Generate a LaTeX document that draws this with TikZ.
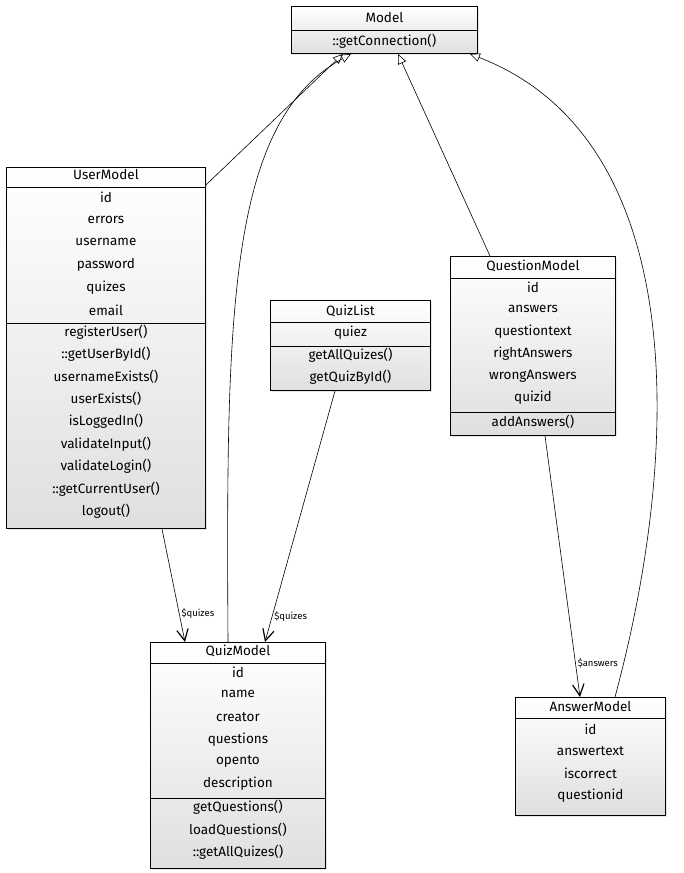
\documentclass[tikz,border=0pt]{standalone}
\usepackage{fontspec}
\setmainfont{Fira Sans}
\usetikzlibrary{arrows.meta, positioning, calc, shadows}

\begin{document}
\begin{tikzpicture}[x=1pt, y=-1pt,
    cls/.style={draw, line width=0.9pt, top color=white, bottom color=gray!25, anchor=north west,
                inner sep=0pt, drop shadow={opacity=0.2, shadow xshift=2pt, shadow yshift=-2pt}},
    row/.style={font=\fontsize{13.5}{15}\selectfont, inner sep=0pt},
    sep/.style={line width=0.7pt},
    inh/.style={-{Triangle[open, length=3.5mm, width=3mm]}, line width=0.6pt},
    use/.style={-{Straight Barb[length=4mm, width=4mm, line width=1.2pt]}, line width=0.6pt},
    lbl/.style={font=\fontsize{9.5}{10}\selectfont, inner sep=1pt}]
  \useasboundingbox (0,0) rectangle (683,873);

  % class boxes
  \node[cls, minimum width=186, minimum height=47] (model) at (291,6) {};
  \node[cls, minimum width=199, minimum height=361] (user) at (6,167) {};
  \node[cls, minimum width=160, minimum height=90] (list) at (270,300) {};
  \node[cls, minimum width=165, minimum height=179] (question) at (450,256) {};
  \node[cls, minimum width=175, minimum height=226] (quiz) at (150,642) {};
  \node[cls, minimum width=150, minimum height=118] (answer) at (515,697) {};

  % Model
  \node[row] (model-h) at ($(model.north)+(0,12)$) {Model};
  \draw[sep] ($(model.north west)+(0,24)$) -- ($(model.north east)+(0,24)$);
  \node[row] (model-m) at ($(model.north)+(0,35)$) {::getConnection()};

  % UserModel
  \node[row] (user-h) at ($(user.north)+(0,8)$) {UserModel};
  \draw[sep] ($(user.north west)+(0,20)$) -- ($(user.north east)+(0,20)$);
  \foreach \t [count=\i from 0] in {id,errors,username,password,quizes,email}
    \node[row] (user-a\i) at ($(user.north)+(0,30+22.6*\i)$) {\t};
  \draw[sep] ($(user.north west)+(0,156)$) -- ($(user.north east)+(0,156)$);
  \foreach \t [count=\i from 0] in {registerUser(),::getUserById(),usernameExists(),userExists(),
      isLoggedIn(),validateInput(),validateLogin(),::getCurrentUser(),logout()}
    \node[row] (user-m\i) at ($(user.north)+(0,165+22.4*\i)$) {\t};

  % QuizList
  \node[row] (list-h) at ($(list.north)+(0,11)$) {QuizList};
  \draw[sep] ($(list.north west)+(0,22)$) -- ($(list.north east)+(0,22)$);
  \node[row] (list-a0) at ($(list.north)+(0,33)$) {quiez};
  \draw[sep] ($(list.north west)+(0,46)$) -- ($(list.north east)+(0,46)$);
  \node[row] (list-m0) at ($(list.north)+(0,55)$) {getAllQuizes()};
  \node[row] (list-m1) at ($(list.north)+(0,77)$) {getQuizById()};

  % QuestionModel
  \node[row] (question-h) at ($(question.north)+(0,10)$) {QuestionModel};
  \draw[sep] ($(question.north west)+(0,22)$) -- ($(question.north east)+(0,22)$);
  \foreach \t [count=\i from 0] in {id,answers,questiontext,rightAnswers,wrongAnswers,quizid}
    \node[row] (question-a\i) at ($(question.north)+(0,31+22.2*\i)$) {\t};
  \draw[sep] ($(question.north west)+(0,156)$) -- ($(question.north east)+(0,156)$);
  \node[row] (question-m0) at ($(question.north)+(0,166)$) {addAnswers()};

  % QuizModel
  \node[row] (quiz-h) at ($(quiz.north)+(0,9)$) {QuizModel};
  \draw[sep] ($(quiz.north west)+(0,21)$) -- ($(quiz.north east)+(0,21)$);
  \foreach \t [count=\i from 0] in {id,name,creator,questions,opento,description}
    \node[row] (quiz-a\i) at ($(quiz.north)+(0,30+22.4*\i)$) {\t};
  \draw[sep] ($(quiz.north west)+(0,156)$) -- ($(quiz.north east)+(0,156)$);
  \foreach \t [count=\i from 0] in {getQuestions(),loadQuestions(),::getAllQuizes()}
    \node[row] (quiz-m\i) at ($(quiz.north)+(0,165+22.5*\i)$) {\t};

  % AnswerModel
  \node[row] (answer-h) at ($(answer.north)+(0,10)$) {AnswerModel};
  \draw[sep] ($(answer.north west)+(0,21)$) -- ($(answer.north east)+(0,21)$);
  \foreach \t [count=\i from 0] in {id,answertext,iscorrect,questionid}
    \node[row] (answer-a\i) at ($(answer.north)+(0,32+22.3*\i)$) {\t};

  % inheritance
  \draw[inh] ([yshift=-18pt]user.north east) -- ([xshift=52pt]model.south west);
  \draw[inh] ([xshift=78pt]quiz.north west)
    .. controls ($(quiz.north west)+(76,-330)$) and ($(quiz.north west)+(78,-520)$)
    .. ([xshift=60pt]model.south west);
  \draw[inh] ([xshift=40pt]question.north west) -- ([xshift=107pt]model.south west);
  \draw[inh] ([xshift=100pt]answer.north west)
    .. controls ($(answer.north west)+(170,-260)$) and ($(answer.north west)+(170,-560)$)
    .. ([xshift=-8pt]model.south east);

  % associations
  \draw[use] ([xshift=156pt]user.south west) -- node[lbl, pos=0.75, right=1pt] {\$quizes} ([xshift=35pt]quiz.north west);
  \draw[use] ([xshift=65pt]list.south west) -- node[lbl, pos=0.9, right=1pt] {\$quizes} ([xshift=115pt]quiz.north west);
  \draw[use] ([xshift=95pt]question.south west) -- node[lbl, pos=0.87, right=1pt] {\$answers} ([xshift=65pt]answer.north west);
\end{tikzpicture}
\end{document}
